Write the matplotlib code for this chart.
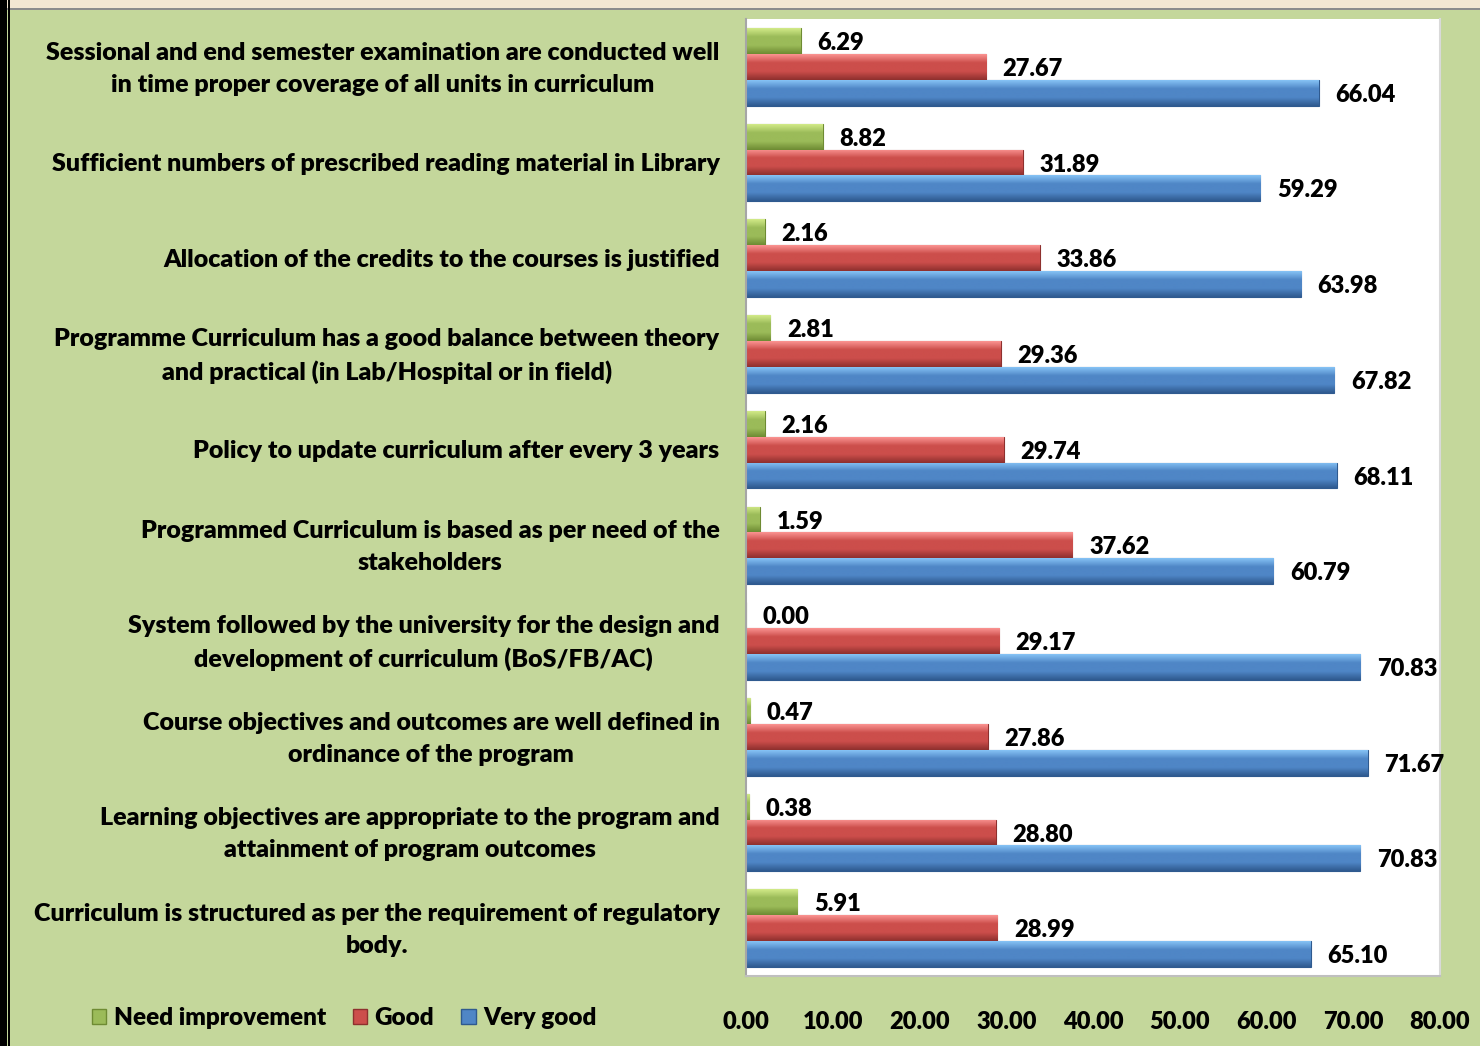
import numpy as np
import matplotlib
matplotlib.use("Agg")
import matplotlib.pyplot as plt
from matplotlib.patches import Rectangle, Patch
from matplotlib.colors import LinearSegmentedColormap

plt.rcParams['font.family'] = ['Lato', 'DejaVu Sans']
W = 'heavy'

categories = [
    "Sessional and end semester examination are conducted well\nin time proper coverage of all units in curriculum",
    "Sufficient numbers of prescribed reading material in Library",
    "Allocation of the credits to the courses is justified",
    "Programme Curriculum has a good balance between theory\nand practical (in Lab/Hospital or in field)",
    "Policy to update curriculum after every 3 years",
    "Programmed Curriculum is based as per need of the\nstakeholders",
    "System followed by the university for the design and\ndevelopment of curriculum (BoS/FB/AC)",
    "Course objectives and outcomes are well defined in\nordinance of the program",
    "Learning objectives are appropriate to the program and\nattainment of program outcomes",
    "Curriculum is structured as per the requirement of regulatory\nbody.",
]
need_improvement = [6.29, 8.82, 2.16, 2.81, 2.16, 1.59, 0.00, 0.47, 0.38, 5.91]
good = [27.67, 31.89, 33.86, 29.36, 29.74, 37.62, 29.17, 27.86, 28.80, 28.99]
very_good = [66.04, 59.29, 63.98, 67.82, 68.11, 60.79, 70.83, 71.67, 70.83, 65.10]
series_names = ["Need improvement", "Good", "Very good"]
x_ticks = [0, 10, 20, 30, 40, 50, 60, 70, 80]

# (light top, mid, dark bottom, edge)
palettes = [
    ("#D2EA88", "#9BBB59", "#6E8B33", "#6E8B33"),
    ("#FA9391", "#CC4E4B", "#8E302E", "#8E302E"),
    ("#86C3F5", "#4F86C6", "#2F5A8F", "#2F5A8F"),
]

BG = "#C4D79B"
FS = 18
fig = plt.figure(figsize=(14.8, 10.46), dpi=100, facecolor=BG)
ax = fig.add_axes([746/1480, 1-976/1046, (1440-746)/1480, (976-19)/1046])
ax.set_facecolor("white")

y = np.arange(len(categories))
h = 0.27
offsets = [-h, 0, h]
all_series = [need_improvement, good, very_good]

grad = np.linspace(0, 1, 64).reshape(-1, 1)
for vals, off, pal in zip(all_series, offsets, palettes):
    cmap = LinearSegmentedColormap.from_list("g", [pal[0], pal[1], pal[1], pal[2]])
    bars = ax.barh(y + off, vals, height=h, color=pal[1], edgecolor=pal[3], linewidth=0.8, zorder=2)
    for b, v in zip(bars, vals):
        x0, y0 = b.get_x(), b.get_y()
        w, hh = b.get_width(), b.get_height()
        if w > 0:
            im = ax.imshow(grad, cmap=cmap, aspect='auto', extent=(x0, x0 + w, y0 + hh, y0),
                           origin='upper', zorder=2.5, interpolation='bilinear')
            im.set_clip_path(b)
        ax.annotate(f"{v:.2f}", (v, y0 + hh/2), xytext=(12, -1.5), textcoords='offset points',
                    ha='left', va='center', fontsize=17, fontweight=W, color='black', zorder=3)

ax.set_xlim(0, 80)
ax.set_ylim(len(categories) - 0.5, -0.5)
ax.set_xticks(x_ticks)
ax.set_xticklabels([f"{t:.2f}" for t in x_ticks], fontsize=17, fontweight=W)
ax.set_yticks(y)
ax.set_yticklabels([])
for yi, lab in zip(y, categories):
    ax.annotate(lab, (0, yi), xycoords=ax.get_yaxis_transform(), xytext=(-19, -1.3),
                textcoords='offset points', ha='right', va='center', multialignment='center',
                linespacing=1.55, fontsize=FS, fontweight=W, annotation_clip=False)
ax.tick_params(axis='x', length=0, pad=25)
ax.tick_params(axis='y', length=0, pad=19)
ax.spines['top'].set_visible(False)
ax.spines['left'].set_color('#A6A6A6')
ax.spines['bottom'].set_color('#BFBFBF')
ax.spines['right'].set_color('#D9D9D9')
for s in ax.spines.values():
    s.set_linewidth(1.5)

# top band and left border
fig.patches.append(Rectangle((0, 1-8/1046), 1, 8/1046, transform=fig.transFigure, facecolor="#F3E7D2", edgecolor='none'))
fig.patches.append(Rectangle((0, 1-10/1046), 1, 2/1046, transform=fig.transFigure, facecolor="#8C8C8C", edgecolor='none'))
fig.patches.append(Rectangle((0, 0), 7/1480, 1, transform=fig.transFigure, facecolor="black", edgecolor='none'))
fig.patches.append(Rectangle((8/1480, 0), 2/1480, 1, transform=fig.transFigure, facecolor="black", edgecolor='none'))

handles = [Patch(facecolor=p[1], edgecolor=p[3]) for p in palettes]
fig.legend(handles, series_names, loc='center left', bbox_to_anchor=(70/1480, 1-1018/1046),
           ncol=3, frameon=False, prop={'size': 17.5, 'weight': W},
           handlelength=0.6, handleheight=0.6, handletextpad=0.3, columnspacing=1.1)

fig.savefig("out.png", dpi=100, facecolor=BG)
